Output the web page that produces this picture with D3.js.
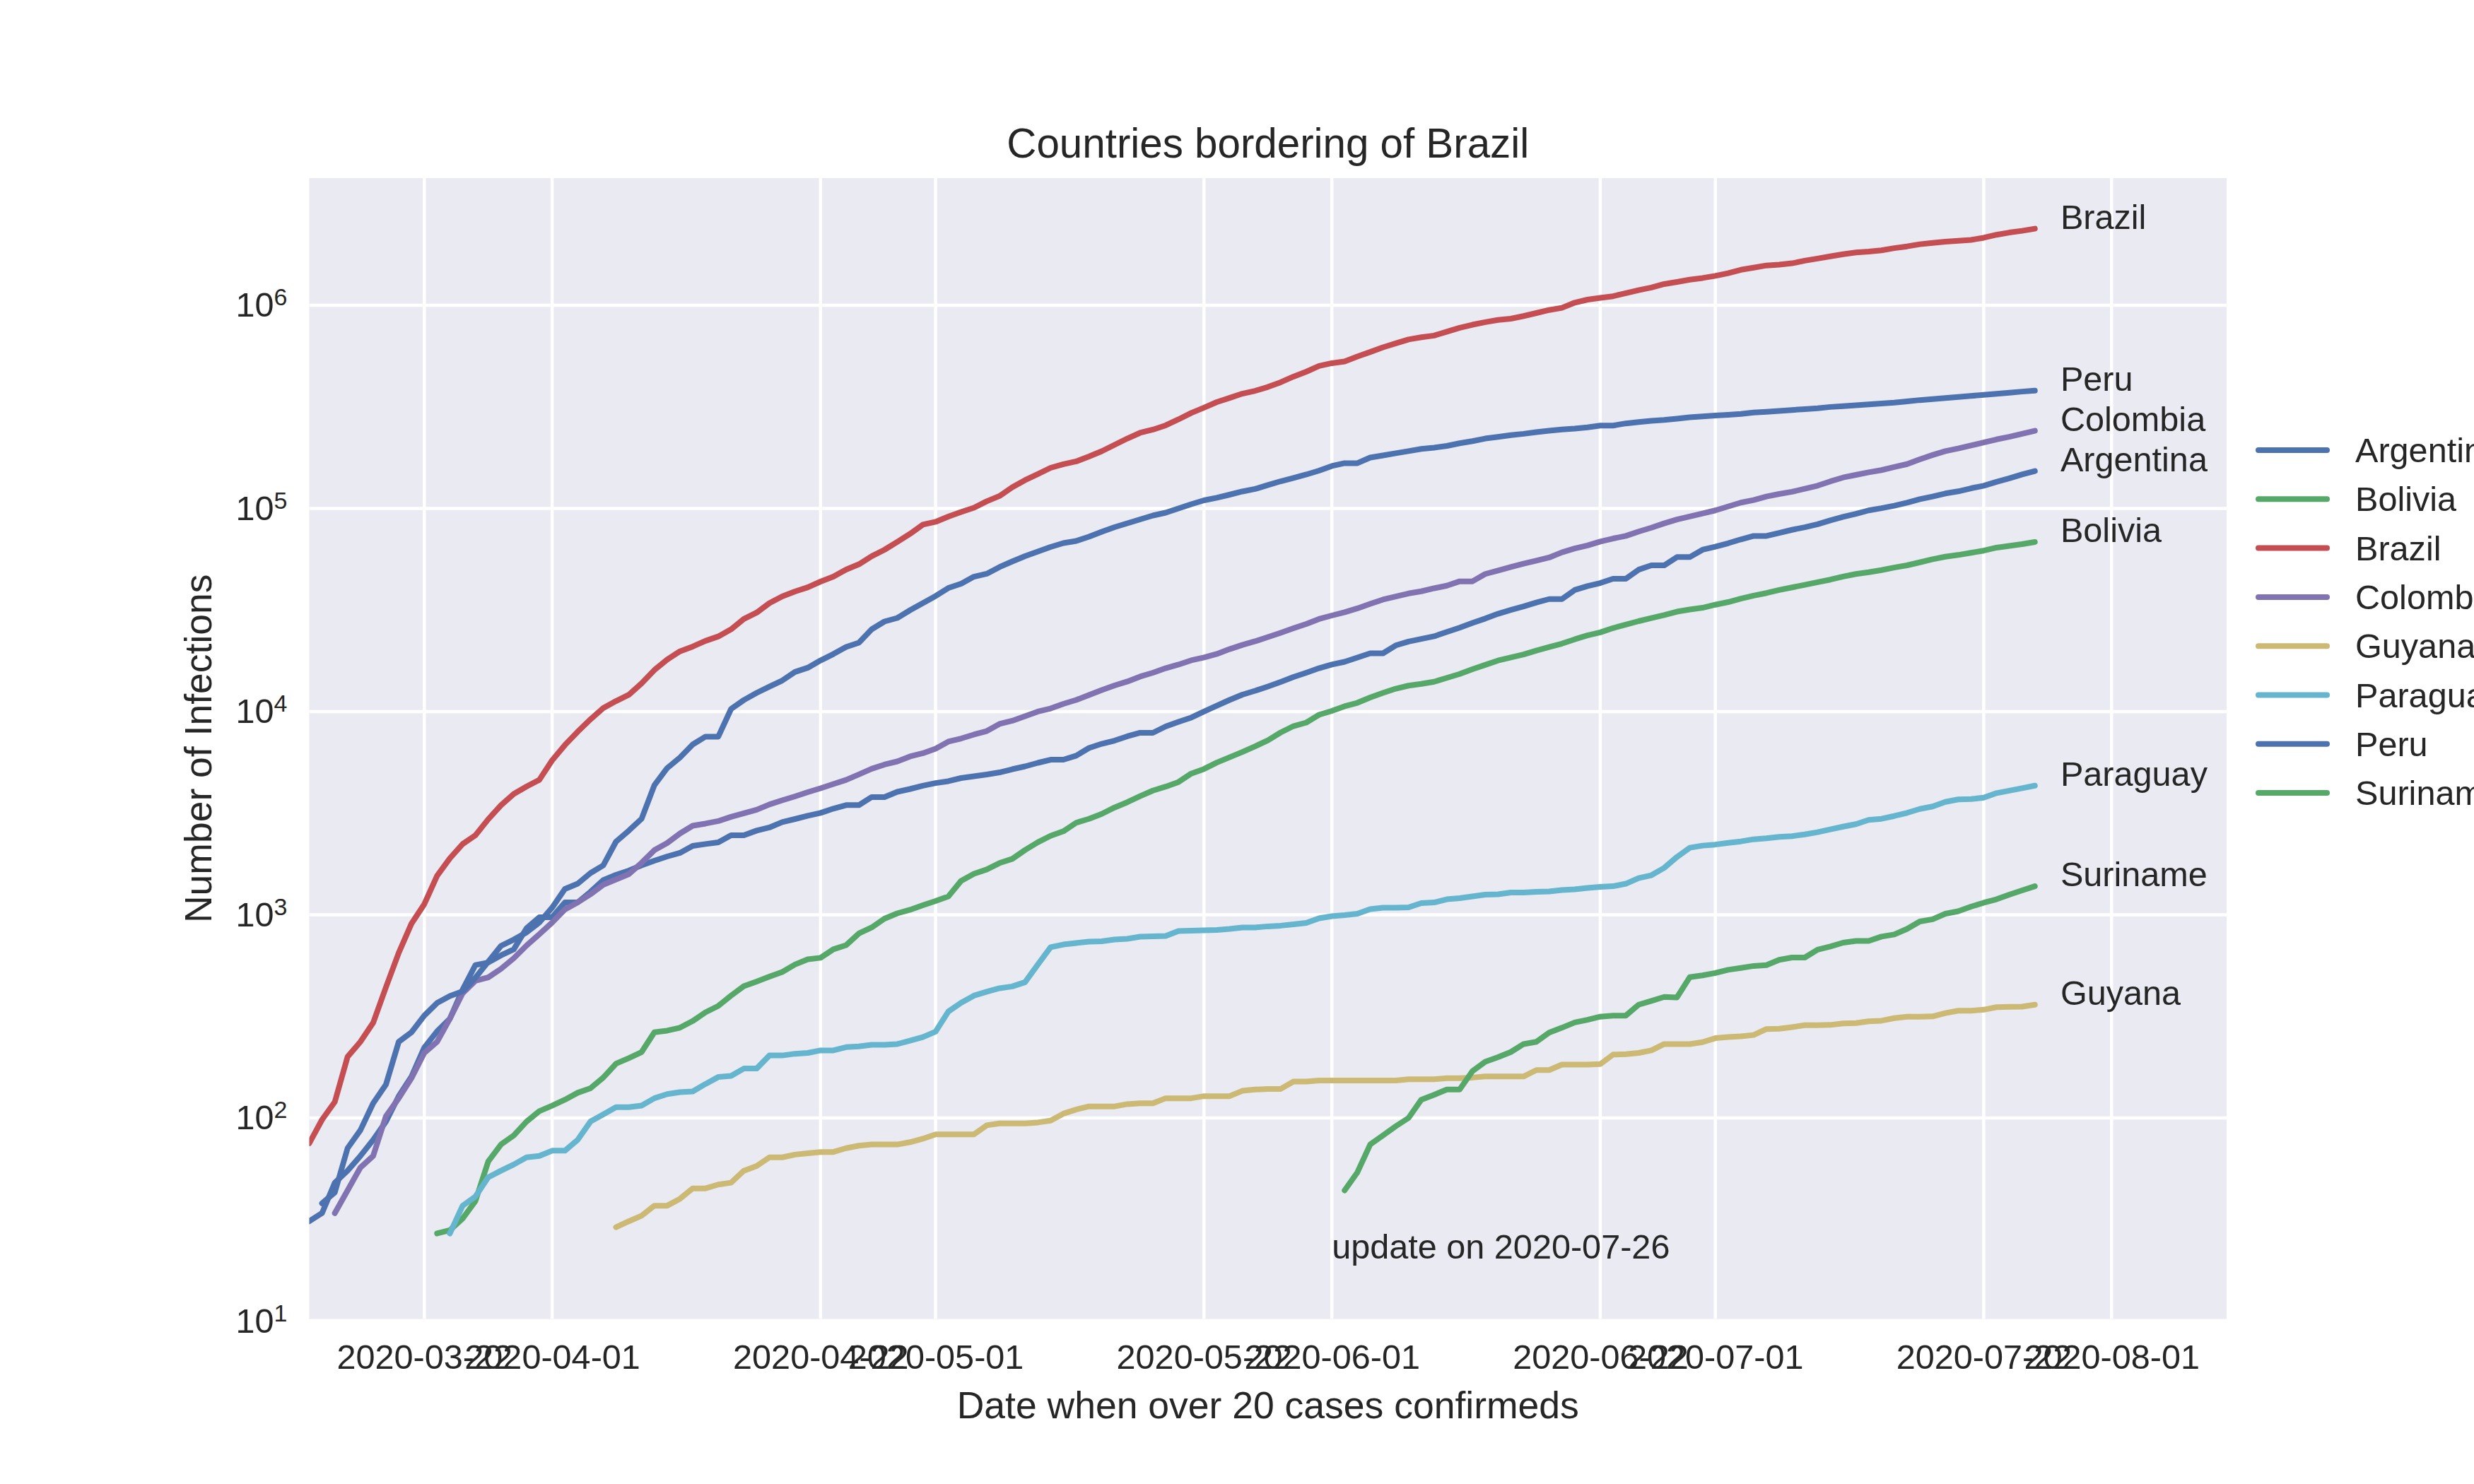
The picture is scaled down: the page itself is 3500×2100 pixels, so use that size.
<!DOCTYPE html>
<html>
<head>
<meta charset="utf-8">
<script src="https://cdn.jsdelivr.net/npm/d3@7"></script>
<style>
  html, body { margin: 0; padding: 0; background: #fff; overflow: hidden; }
  text { font-family: "Liberation Sans", Arial, sans-serif; fill: #262626; }
</style>
</head>
<body>
<div id="chart"></div>
<script>
// Confirmed cases per day. Each list starts on its first* date.
const firstBrazil = "2020-03-13";
const brazil = [75,98,120,200,237,294,440,650,905,1128,1554,1897,2229,2461,2951,3460,3935,4276,4613,5754,
  6843,7962,9161,10400,11272,12100,13780,16020,18030,19800,20900,22300,23440,25400,28580,30700,34200,36900,39000,40900,
  43650,46130,50000,53100,58200,62600,68400,75000,83200,85900,91200,96100,100800,108400,115100,127200,137800,147500,158500,165000,
  170400,180200,191300,205600,220900,235600,244300,256300,274400,295100,313300,333700,349900,367300,379300,396300,417800,445500,471000,502300,
  518800,529200,559800,588800,620900,649600,678800,695700,709300,741500,774900,802000,826000,846500,859000,885000,915600,947500,971000,1030000,
  1066000,1087000,1108000,1147000,1187000,1223000,1272000,1303000,1336000,1362000,1396000,1438000,1495000,1532000,1570000,1586000,1609000,1657000,1698000,1741000,
  1784000,1819000,1837000,1864000,1911000,1949000,1997000,2027000,2057000,2077000,2097000,2149000,2224000,2280000,2325000,2382000];

const firstArgentina = "2020-03-13";
const argentina = [31,34,48,55,65,78,96,128,160,222,267,308,428,566,582,631,676,859,973,973,
  1150,1150,1297,1481,1572,1650,1752,1846,1936,2016,2182,2229,2274,2462,2462,2596,2689,2857,2960,3071,
  3172,3329,3465,3465,3795,3795,4030,4160,4315,4450,4545,4710,4805,4905,5020,5205,5375,5595,5800,5800,
  6065,6620,6945,7200,7560,7865,7865,8450,8900,9345,10000,10700,11410,12120,12660,13290,14000,14800,15530,16350,
  17040,17590,18460,19360,19360,21180,22130,22800,23480,24660,25900,27330,28700,30300,31660,32930,34410,35800,35800,39670,
  41480,42930,45070,45070,49950,52470,52470,57600,57600,62600,64800,67380,70420,73230,73230,75800,78470,80820,83620,87380,
  90880,94060,97810,100250,103200,106800,111100,114500,118500,121400,125600,129400,135200,140600,147000,152800];

const firstPeru = "2020-03-14";
const peru = [38,43,71,87,118,146,237,264,319,368,398,420,490,587,703,755,819,916,1084,
  1340,1422,1604,1750,2291,2595,2970,4344,5270,5940,6890,7530,7530,10300,11400,12360,13280,14220,15670,16440,
  17860,19190,20800,21830,25420,27760,28900,31560,34200,37050,40600,42630,46150,47690,51450,54850,58250,61350,64630,67520,
  69180,72600,76800,80900,84520,88340,92300,95300,100000,104900,109600,112800,116900,121200,124700,130300,136100,141200,146900,153500,
  161800,167100,167100,178000,182400,186900,191500,196300,199200,203200,209300,214400,220800,225100,229600,233000,237600,241200,244700,247200,
  250800,255800,255800,262100,266000,270000,272700,276700,280800,283600,286400,289100,292000,296400,299200,302200,305200,308200,311200,315900,
  318900,322100,325200,328400,331700,336600,341500,345000,349300,353600,357900,362400,366700,371400,376000,380000];

const firstColombia = "2020-03-15";
const colombia = [34,44,57,65,102,125,157,209,237,308,411,473,492,542,611,706,802,916,
  1062,1151,1262,1406,1492,1585,1802,2080,2255,2512,2743,2811,2891,3035,3158,3287,3492,3660,3826,4013,
  4194,4400,4612,4905,5230,5485,5685,6015,6235,6570,7115,7375,7710,8020,8695,9015,9490,10000,10365,10920,
  11410,12070,12770,13450,14060,14870,15530,16350,17040,17880,18460,19210,20300,21300,22190,23280,24430,25720,27000,28570,
  29720,30820,32210,33920,35600,36870,38150,39100,40460,41670,43770,43770,47570,49480,51450,53500,55380,57320,60790,63530,
  65750,68720,71120,73230,76930,80380,84430,88240,91330,94510,97810,102200,106800,110000,114400,117800,120800,125000,129400,135900,
  142000,146300,150600,154400,159800,165300,174500,183200,191500,197200,204100,211300,218700,225100,233000,241200];

const firstBolivia = "2020-03-23";
const bolivia = [27,28,32,39,61,74,82,96,108,115,123,133,140,158,185,197,211,264,269,278,
  300,331,356,400,445,469,496,523,569,604,614,676,709,809,866,957,1016,1058,1114,1169,
  1232,1470,1592,1671,1797,1885,2083,2276,2447,2577,2838,2965,3138,3373,3581,3835,4087,4272,4500,4955,
  5220,5613,5960,6329,6750,7224,7893,8483,8831,9645,10080,10620,11050,11740,12370,12970,13420,13690,14030,14660,
  15320,16170,16980,17840,18460,19100,19970,20770,21600,22690,23710,24540,25770,26800,27870,28850,29850,31050,31810,32450,
  33590,34590,35970,37220,38330,39670,40860,42080,43340,44630,46190,47570,48510,49720,51200,52470,54290,56200,57880,59020,
  60490,61990,64150,65440,66730,68380];

const firstParaguay = "2020-03-24";
const paraguay = [27,37,41,51,55,59,64,65,69,69,78,96,104,113,113,115,125,131,134,135,
  147,159,161,175,175,203,203,207,209,215,215,223,225,229,229,231,240,250,266,334,
  369,400,418,435,444,466,569,692,714,726,738,741,755,762,780,784,787,832,835,839,
  842,852,866,866,877,884,898,912,961,984,996,1012,1066,1083,1083,1088,1141,1150,1192,1207,
  1231,1256,1261,1286,1286,1297,1303,1323,1334,1355,1372,1382,1422,1516,1565,1702,1926,2137,2190,2216,
  2260,2297,2353,2381,2419,2438,2488,2549,2632,2716,2794,2931,2967,3063,3174,3318,3412,3593,3696,3711,
  3771,3971,4084,4200,4320];

const firstGuyana = "2020-04-06";
const guyana = [29,31,33,37,37,40,45,45,47,48,55,58,64,64,66,67,68,68,71,73,
  74,74,74,76,79,83,83,83,83,92,94,94,94,95,97,105,110,114,114,114,
  117,118,118,125,125,125,128,128,128,136,138,139,139,151,151,153,153,153,153,153,
  153,153,155,155,155,157,157,158,160,160,160,160,172,172,183,183,183,184,205,206,
  209,215,231,231,231,236,247,250,252,256,274,275,280,286,286,287,292,293,299,301,
  310,315,315,316,328,337,337,341,351,352,353,361];

const firstSuriname = "2020-06-02";
const suriname = [44,54,74,82,91,100,123,130,138,138,170,189,199,211,231,237,263,278,295,304,
  315,319,319,361,377,394,392,493,503,517,536,547,560,565,600,616,616,673,698,729,
  744,744,781,800,852,927,950,1012,1041,1096,1146,1192,1256,1318,1382];

// legend order is alphabetical, same as the draw order
const names = ["Argentina", "Bolivia", "Brazil", "Colombia", "Guyana", "Paraguay", "Peru", "Suriname"];
const seriesValues = [argentina, bolivia, brazil, colombia, guyana, paraguay, peru, suriname];
const seriesFirst = [firstArgentina, firstBolivia, firstBrazil, firstColombia, firstGuyana, firstParaguay, firstPeru, firstSuriname];
const colors = ["#4C72B0", "#55A868", "#C44E52", "#8172B2", "#CCB974", "#64B5CD", "#4C72B0", "#55A868"];

const xTicks = ["2020-03-22", "2020-04-01", "2020-04-22", "2020-05-01", "2020-05-22",
  "2020-06-01", "2020-06-22", "2020-07-01", "2020-07-22", "2020-08-01"];
const yTicks = [1e1, 1e2, 1e3, 1e4, 1e5, 1e6];

const parseDay = d3.utcParse("%Y-%m-%d");
const formatDay = d3.utcFormat("%Y-%m-%d");

const width = 3500;
const height = 2100;
const plotLeft = 437.5, plotRight = 3150, plotTop = 252, plotBottom = 1866.5;
const tickFont = "48.6px", labelFont = "53.5px", titleFont = "58.3px";
const lineWidth = 8, gridWidth = 4.5;

const x = d3.scaleUtc()
  .domain([parseDay("2020-03-13"), parseDay("2020-08-10")])
  .range([plotLeft, plotRight]);

// 10^1 sits just under the axes edge in the reference
const y = d3.scaleLog()
  .domain([10, 4.227e6])
  .range([1869.5, plotTop]);

const svg = d3.select("#chart")
  .append("svg")
  .attr("width", width)
  .attr("height", height)
  .attr("viewBox", [0, 0, width, height]);

svg.append("rect")
  .attr("x", plotLeft).attr("y", plotTop)
  .attr("width", plotRight - plotLeft).attr("height", plotBottom - plotTop)
  .attr("fill", "#EAEAF2");

svg.append("defs").append("clipPath").attr("id", "plot")
  .append("rect")
  .attr("x", plotLeft).attr("y", plotTop)
  .attr("width", plotRight - plotLeft).attr("height", plotBottom - plotTop);

// Grid
const gridX = svg.append("g")
  .attr("clip-path", "url(#plot)")
  .selectAll("line").data(xTicks).join("line")
  .attr("x1", d => x(parseDay(d))).attr("x2", d => x(parseDay(d)))
  .attr("y1", plotTop).attr("y2", plotBottom)
  .attr("stroke", "#fff").attr("stroke-width", gridWidth);

const gridY = svg.append("g")
  .attr("clip-path", "url(#plot)")
  .selectAll("line").data(yTicks).join("line")
  .attr("x1", plotLeft).attr("x2", plotRight)
  .attr("y1", d => y(d)).attr("y2", d => y(d))
  .attr("stroke", "#fff").attr("stroke-width", gridWidth);

// Axes
const xAxis = svg.append("g")
  .attr("transform", `translate(0,${plotBottom})`)
  .call(d3.axisBottom(x)
    .tickValues(xTicks.map(parseDay))
    .tickFormat(formatDay)
    .tickSize(0));
xAxis.select(".domain").remove();
xAxis.selectAll("text")
  .attr("y", 70.5).attr("dy", 0)
  .style("font-size", tickFont).style("font-family", '"Liberation Sans"').attr("fill", "#262626");

const yAxis = svg.append("g")
  .attr("transform", `translate(${plotLeft},0)`)
  .call(d3.axisLeft(y)
    .tickValues(yTicks)
    .tickFormat(() => "")
    .tickSize(0));
yAxis.select(".domain").remove();
yAxis.selectAll("text")
  .attr("x", -31).attr("dy", 16)
  .style("font-size", tickFont).style("font-family", '"Liberation Sans"').attr("fill", "#262626")
  .each(function (d) {
    const t = d3.select(this);
    t.append("tspan").text("10");
    t.append("tspan")
      .attr("dy", -16).style("font-size", "34px")
      .text(Math.round(Math.log10(d)));
  });

// Lines
const line = d3.line()
  .x(d => x(d.date))
  .y(d => y(d.value));

const series = names.map((name, i) => ({
  name,
  color: colors[i],
  points: seriesValues[i].map((value, k) => ({
    date: d3.utcDay.offset(parseDay(seriesFirst[i]), k),
    value
  }))
}));

svg.append("g")
  .attr("clip-path", "url(#plot)")
  .selectAll("path").data(series).join("path")
  .attr("d", d => line(d.points))
  .attr("fill", "none")
  .attr("stroke", d => d.color)
  .attr("stroke-width", lineWidth)
  .attr("stroke-linecap", "round")
  .attr("stroke-linejoin", "round");

// Country names two days after the last point
svg.append("g")
  .selectAll("text").data(series).join("text")
  .attr("x", d => x(d3.utcDay.offset(d.points[d.points.length - 1].date, 2)))
  .attr("y", d => y(d.points[d.points.length - 1].value))
  .style("font-size", tickFont)
  .text(d => d.name);

// Note
svg.append("text")
  .attr("x", x(parseDay("2020-06-01")))
  .attr("y", y(20.3))
  .style("font-size", tickFont)
  .text("update on 2020-07-26");

// Titles
svg.append("text")
  .attr("x", (plotLeft + plotRight) / 2).attr("y", 223)
  .attr("text-anchor", "middle")
  .style("font-size", titleFont)
  .text("Countries bordering of Brazil");

svg.append("text")
  .attr("x", (plotLeft + plotRight) / 2).attr("y", 2007)
  .attr("text-anchor", "middle")
  .style("font-size", labelFont)
  .text("Date when over 20 cases confirmeds");

svg.append("text")
  .attr("transform", `translate(299,${(plotTop + plotBottom) / 2}) rotate(-90)`)
  .attr("text-anchor", "middle")
  .style("font-size", labelFont)
  .text("Number of Infections");

// Legend, it runs off the page in the reference too
const legend = svg.append("g")
  .selectAll("g").data(series).join("g")
  .attr("transform", (d, i) => `translate(3195,${637 + i * 69.3})`);

legend.append("line")
  .attr("x1", 0).attr("x2", 97)
  .attr("stroke", d => d.color)
  .attr("stroke-width", lineWidth)
  .attr("stroke-linecap", "round");

legend.append("text")
  .attr("x", 137).attr("y", 17)
  .style("font-size", tickFont)
  .text(d => d.name);
</script>
</body>
</html>
